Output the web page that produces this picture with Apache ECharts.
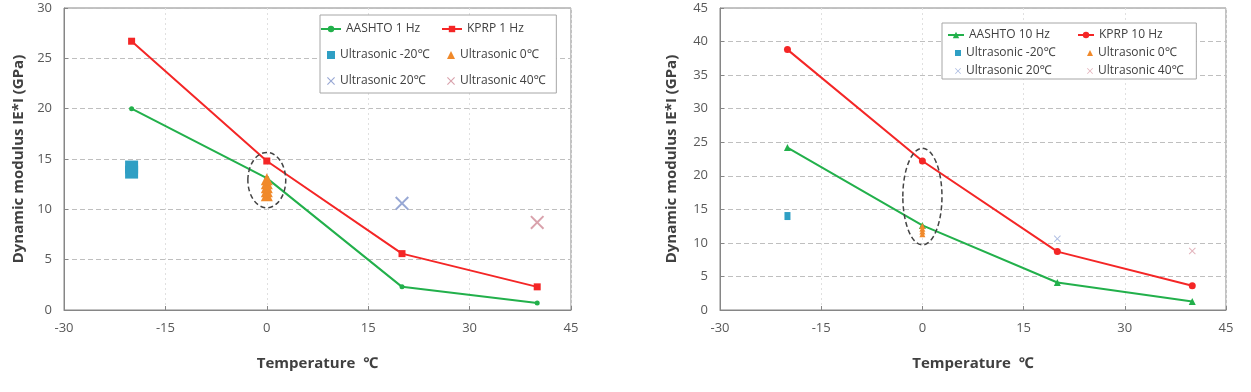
<!DOCTYPE html>
<html>
<head>
<meta charset="utf-8">
<script src="https://cdn.jsdelivr.net/npm/echarts@6/dist/echarts.min.js"></script>
<style>
  html, body { margin: 0; padding: 0; background: #fff; }
  #wrap { width: 1251px; height: 392px; position: relative; }
  #left, #right { position: absolute; top: 0; width: 625px; height: 392px; }
  #left { left: 0; }
  #right { left: 625px; width: 626px; }
</style>
</head>
<body>
<div id="wrap">
  <div id="left"></div>
  <div id="right"></div>
</div>
<script>
// temperatures (deg C)
const temps = [-20, 0, 20, 40];

// 1 Hz (left)
const aashto1 = [20.0, 13.1, 2.3, 0.7];
const kprp1 = [26.7, 14.8, 5.6, 2.3];
// 10 Hz (right)
const aashto10 = [24.2, 12.6, 4.1, 1.25];
const kprp10 = [38.8, 22.2, 8.7, 3.6];

// ultrasonic measurements [temp, modulus]
const usMinus20 = [[-20, 13.7], [-20, 14.2]];
const us0 = [[0, 11.4], [0, 11.8], [0, 12.2], [0, 12.6], [0, 13.0]];
const us20 = [[20, 10.6]];
const us40 = [[40, 8.7]];

const usMinus20R = [[-20, 14.0]];
const us0R = [[0, 11.3], [0, 11.7], [0, 12.1], [0, 12.5]];
const us20R = [[20, 10.6]];
const us40R = [[40, 8.8]];

// dashed ellipse around the 0 deg data [cx, cy, rx, ry] in data units
const ellipseL = [[0, 12.9, 2.8, 2.75]];
const ellipseR = [[0, 16.9, 2.9, 7.2]];

const FONT = "'Open Sans', 'Noto Sans', sans-serif";
const GREEN = '#22b04b';
const RED = '#f42626';
const X_SHAPE = 'path://M0,1L1,0L5,4L9,0L10,1L6,5L10,9L9,10L5,6L1,10L0,9L4,5Z';

function pairs(ys) {
  return temps.map((t, i) => [t, ys[i]]);
}

function ellipseSeries(data) {
  return {
    type: 'custom',
    silent: true,
    z: 5,
    data: data,
    renderItem: function (params, api) {
      const c = api.coord([api.value(0), api.value(1)]);
      const e = api.coord([api.value(0) + api.value(2), api.value(1) + api.value(3)]);
      return {
        type: 'ellipse',
        shape: { cx: c[0], cy: c[1], rx: Math.abs(e[0] - c[0]), ry: Math.abs(c[1] - e[1]) },
        style: { fill: 'none', stroke: '#444', lineWidth: 1.5, lineDash: [5, 3] }
      };
    }
  };
}

// one legend per column; the first scatter column also draws the frame
function makeLegends(names, L) {
  const txt = { fontFamily: FONT, fontSize: 12, color: '#404040', lineHeight: L.lineHeight };
  const base = { orient: 'vertical', padding: 0, z: 10, itemGap: L.gap, textStyle: txt };
  return [
    Object.assign({}, base, { data: [names[0]], left: L.lineLeft[0], top: L.lineTop,
      itemWidth: L.lineIconW, itemHeight: 8 }),
    Object.assign({}, base, { data: [names[1]], left: L.lineLeft[1], top: L.lineTop,
      itemWidth: L.lineIconW, itemHeight: 8 }),
    Object.assign({}, base, { data: [names[2], names[4]], left: L.boxLeft, top: L.boxTop,
      itemWidth: L.dotW, itemHeight: L.dotW, padding: L.boxPadding, z: 4,
      borderColor: '#a6a6a6', borderWidth: 1, backgroundColor: '#fff' }),
    Object.assign({}, base, { data: [names[3], names[5]], left: L.dotLeft2, top: L.dotTop,
      itemWidth: L.dotW, itemHeight: L.dotW })
  ];
}

function makeOption(cfg) {
  return {
    animation: false,
    textStyle: { fontFamily: FONT },
    grid: cfg.grid,
    legend: makeLegends(cfg.series.slice(0, 6).map(s => s.name), cfg.legend),
    xAxis: {
      type: 'value',
      min: -30, max: 45, interval: 15,
      name: 'Temperature  \u2103',
      nameLocation: 'middle',
      nameGap: 46,
      nameTextStyle: { fontFamily: FONT, fontSize: 15, fontWeight: 'bold', color: '#404040' },
      axisLine: { lineStyle: { color: '#868686' } },
      axisTick: { inside: true, length: 4, lineStyle: { color: '#868686' } },
      axisLabel: { fontSize: 13, color: '#595959', margin: 12 },
      splitLine: { show: true, lineStyle: { color: '#e0e0e0', type: [2, 3] } }
    },
    yAxis: {
      type: 'value',
      min: 0, max: cfg.yMax, interval: 5,
      name: 'Dynamic modulus IE*I (GPa)',
      nameLocation: 'middle',
      nameGap: cfg.yNameGap,
      nameTextStyle: { fontFamily: FONT, fontSize: 15, fontWeight: 'bold', color: '#404040' },
      axisLine: { show: true, onZero: false, lineStyle: { color: '#868686' } },
      axisTick: { show: true, inside: true, length: 4, lineStyle: { color: '#868686' } },
      axisLabel: { fontSize: 13, color: '#595959', margin: 12 },
      splitLine: { show: true, lineStyle: { color: '#bfbfbf', type: [5, 3] } }
    },
    series: cfg.series
  };
}

// ---- left chart (1 Hz)
const leftSeries = [
  { name: 'AASHTO 1 Hz', type: 'line', data: pairs(aashto1), symbol: 'circle', symbolSize: 5,
    itemStyle: { color: GREEN }, lineStyle: { width: 2 }, z: 3 },
  { name: 'KPRP 1 Hz', type: 'line', data: pairs(kprp1), symbol: 'rect', symbolSize: 7,
    itemStyle: { color: RED }, lineStyle: { width: 2 }, z: 3 },
  { name: 'Ultrasonic -20\u2103', type: 'scatter', data: usMinus20, symbol: 'rect', symbolSize: 13,
    itemStyle: { color: '#2f9fc4', opacity: 1 } },
  { name: 'Ultrasonic 0\u2103', type: 'scatter', data: us0, symbol: 'triangle', symbolSize: 12,
    itemStyle: { color: '#f0892a', opacity: 1 }, z: 4 },
  { name: 'Ultrasonic 20\u2103', type: 'scatter', data: us20, symbol: X_SHAPE, symbolSize: 14,
    itemStyle: { color: '#98a8d4', opacity: 1 } },
  { name: 'Ultrasonic 40\u2103', type: 'scatter', data: us40, symbol: X_SHAPE, symbolSize: 14,
    itemStyle: { color: '#d9a2ac', opacity: 1 } },
  ellipseSeries(ellipseL)
];

const leftChart = echarts.init(document.getElementById('left'), null, { renderer: 'canvas' });
leftChart.setOption(makeOption({
  grid: { left: 64, right: 54, top: 8, bottom: 82, show: true, borderColor: '#868686', borderWidth: 1 },
  yMax: 30,
  yNameGap: 35,
  legend: {
    lineHeight: 16, gap: 10,
    lineLeft: [320, 441], lineTop: 21, lineIconW: 20,
    boxLeft: 320, boxTop: 15, boxPadding: [32, 127, 4, 7],
    dotLeft2: 447, dotTop: 47, dotW: 8
  },
  series: leftSeries
}));

// ---- right chart (10 Hz)
const rightSeries = [
  { name: 'AASHTO 10 Hz', type: 'line', data: pairs(aashto10), symbol: 'triangle', symbolSize: 7,
    itemStyle: { color: GREEN }, lineStyle: { width: 2 }, z: 3 },
  { name: 'KPRP 10 Hz', type: 'line', data: pairs(kprp10), symbol: 'circle', symbolSize: 7,
    itemStyle: { color: RED }, lineStyle: { width: 2 }, z: 3 },
  { name: 'Ultrasonic -20\u2103', type: 'scatter', data: usMinus20R, symbol: 'rect', symbolSize: [6, 8],
    itemStyle: { color: '#2f9fc4', opacity: 1 } },
  { name: 'Ultrasonic 0\u2103', type: 'scatter', data: us0R, symbol: 'triangle', symbolSize: 6,
    itemStyle: { color: '#f0892a', opacity: 1 }, z: 4 },
  { name: 'Ultrasonic 20\u2103', type: 'scatter', data: us20R, symbol: X_SHAPE, symbolSize: 7,
    itemStyle: { color: '#aebde2', opacity: 1 } },
  { name: 'Ultrasonic 40\u2103', type: 'scatter', data: us40R, symbol: X_SHAPE, symbolSize: 7,
    itemStyle: { color: '#e3b4bc', opacity: 1 } },
  ellipseSeries(ellipseR)
];

const rightChart = echarts.init(document.getElementById('right'), null, { renderer: 'canvas' });
rightChart.setOption(makeOption({
  grid: { left: 95, right: 25, top: 8, bottom: 82, show: true, borderColor: '#868686', borderWidth: 1 },
  yMax: 45,
  yNameGap: 41,
  legend: {
    lineHeight: 14, gap: 4,
    lineLeft: [322, 452], lineTop: 28, lineIconW: 16,
    boxLeft: 317, boxTop: 23, boxPadding: [23, 141, 1, 13],
    dotLeft2: 462, dotTop: 46, dotW: 6
  },
  series: rightSeries
}));
</script>
</body>
</html>
